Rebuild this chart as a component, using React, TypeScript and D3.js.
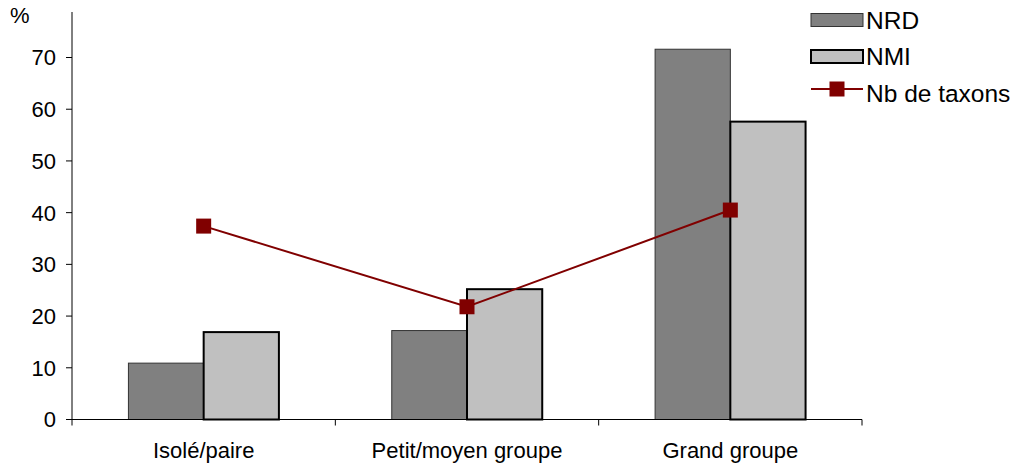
import React, { useEffect, useRef } from "react";
import * as d3 from "d3";

const categories = ["Isolé/paire", "Petit/moyen groupe", "Grand groupe"];
const nrd = [10.9, 17.2, 71.6];
const nmi = [16.9, 25.2, 57.6];
const taxons = [37.4, 21.8, 40.5];
const yTicks = [0, 10, 20, 30, 40, 50, 60, 70];
const seriesNames = ["NRD", "NMI", "Nb de taxons"];

const W = 1014;
const H = 465;
const FONT = "Liberation Sans, Arial, sans-serif";

export default function App() {
  const ref = useRef<SVGSVGElement>(null);
  useEffect(() => {
    const svg = d3.select(ref.current);
    svg.selectAll("*").remove();

    const left = 72, right = 862, bottom = 419.5, top = 12;
    const x = d3.scaleBand<string>().domain(categories).range([left, right]).paddingInner(0).paddingOuter(0);
    const y = d3.scaleLinear().domain([0, 78.8]).range([bottom, top]);
    const inner = d3.scaleBand<string>().domain(["NRD", "NMI"]).range([0, x.bandwidth()]).paddingInner(0).paddingOuter(0.75);

    const g = svg.append("g");
    categories.forEach((c, i) => {
      g.append("rect")
        .attr("x", x(c)! + inner("NRD")!)
        .attr("y", y(nrd[i]))
        .attr("width", inner.bandwidth())
        .attr("height", y(0) - y(nrd[i]))
        .attr("fill", "#808080")
        .attr("stroke", "#333")
        .attr("stroke-width", 1);
    });
    categories.forEach((c, i) => {
      g.append("rect")
        .attr("x", x(c)! + inner("NMI")!)
        .attr("y", y(nmi[i]))
        .attr("width", inner.bandwidth())
        .attr("height", y(0) - y(nmi[i]))
        .attr("fill", "#C0C0C0")
        .attr("stroke", "#000")
        .attr("stroke-width", 2);
    });

    const axisColor = "#000";
    svg.append("line").attr("x1", left).attr("x2", left).attr("y1", top).attr("y2", bottom).attr("stroke", axisColor).attr("stroke-width", 1);
    svg.append("line").attr("x1", left).attr("x2", right).attr("y1", bottom).attr("y2", bottom).attr("stroke", axisColor).attr("stroke-width", 1);
    yTicks.forEach((t) => {
      svg.append("line").attr("x1", left - 6).attr("x2", left).attr("y1", y(t)).attr("y2", y(t)).attr("stroke", axisColor);
      svg.append("text").attr("x", left - 16).attr("y", y(t)).attr("dy", "0.36em")
        .attr("text-anchor", "end").attr("font-family", FONT).attr("font-size", 22).text(String(t));
    });
    const xt = [left, ...categories.map((c) => x(c)! + x.bandwidth())];
    xt.forEach((p) => {
      svg.append("line").attr("x1", p).attr("x2", p).attr("y1", bottom).attr("y2", bottom + 6).attr("stroke", axisColor);
    });
    categories.forEach((c) => {
      svg.append("text").attr("x", x(c)! + x.bandwidth() / 2).attr("y", 458)
        .attr("text-anchor", "middle").attr("font-family", FONT).attr("font-size", 22).text(c);
    });
    svg.append("text").attr("x", 10).attr("y", 23).attr("font-family", FONT).attr("font-size", 22).text("%");

    const cx = (c: string) => x(c)! + x.bandwidth() / 2;
    const line = d3.line<number>().x((_, i) => cx(categories[i])).y((d) => y(d));
    svg.append("path").attr("d", line(taxons)).attr("fill", "none").attr("stroke", "#800000").attr("stroke-width", 2);
    taxons.forEach((v, i) => {
      svg.append("rect").attr("x", cx(categories[i]) - 7.5).attr("y", y(v) - 7.5).attr("width", 15).attr("height", 15).attr("fill", "#800000");
    });

    const lx = 811, lw = 52, tx = 866;
    const rows = [20, 56.5, 93];
    svg.append("rect").attr("x", lx).attr("y", rows[0] - 6.5).attr("width", lw).attr("height", 13).attr("fill", "#808080").attr("stroke", "#333");
    svg.append("rect").attr("x", lx).attr("y", rows[1] - 6.5).attr("width", lw).attr("height", 13).attr("fill", "#C0C0C0").attr("stroke", "#000").attr("stroke-width", 2);
    svg.append("line").attr("x1", lx).attr("x2", lx + lw).attr("y1", rows[2] - 4).attr("y2", rows[2] - 4).attr("stroke", "#800000").attr("stroke-width", 2);
    svg.append("rect").attr("x", lx + lw / 2 - 7.5).attr("y", rows[2] - 11.5).attr("width", 15).attr("height", 15).attr("fill", "#800000");
    seriesNames.forEach((n, i) => {
      svg.append("text").attr("x", tx).attr("y", rows[i]).attr("dy", "0.36em").attr("font-family", FONT).attr("font-size", 24.5).text(n);
    });
  }, []);
  return (
    <svg ref={ref} width={W} height={H} style={{ position: "absolute", left: 0, top: 0, background: "#fff" }} />
  );
}
